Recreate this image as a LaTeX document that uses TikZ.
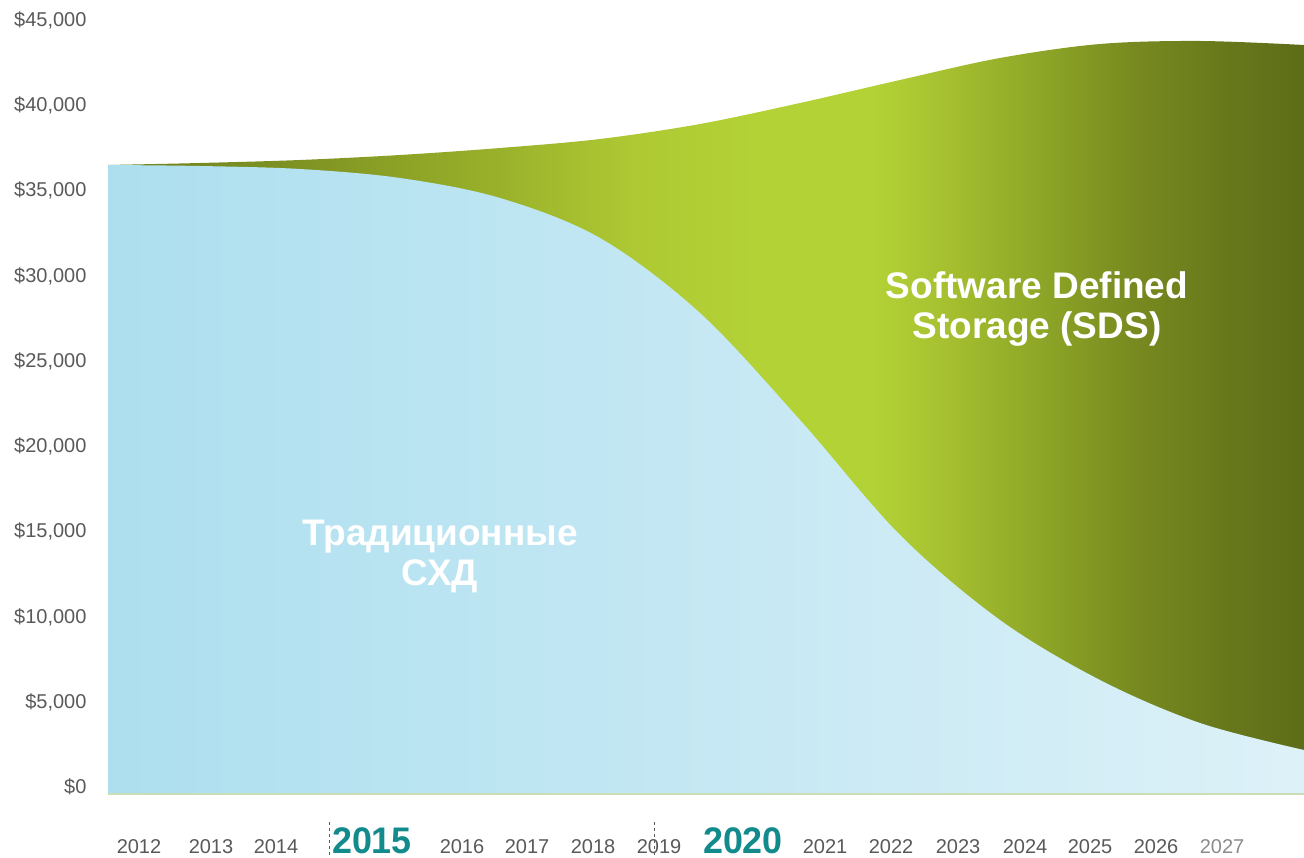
\documentclass[tikz,border=0pt]{standalone}
\usepackage{fontspec}
\setmainfont{Liberation Sans}
\usetikzlibrary{positioning}

\definecolor{sdsa}{HTML}{6F821E}
\definecolor{sdsb}{HTML}{7E9322}
\definecolor{sdsc}{HTML}{98B02A}
\definecolor{sdsd}{HTML}{AEC933}
\definecolor{sdse}{HTML}{B3D236}
\definecolor{sdsf}{HTML}{A6C030}
\definecolor{sdsg}{HTML}{8DA627}
\definecolor{sdsh}{HTML}{77891F}
\definecolor{sdsi}{HTML}{66771B}
\definecolor{sdsj}{HTML}{5D6D18}
\definecolor{oldleft}{HTML}{ADDFEF}
\definecolor{oldright}{HTML}{DDF1F8}
\definecolor{ticktext}{HTML}{595959}
\definecolor{yeartext}{HTML}{138A8C}
\definecolor{axisline}{HTML}{CADDB4}

% the path box runs from 25bp to 75bp
\pgfdeclarehorizontalshading{sdsband}{100bp}{%
  color(0bp)=(sdsa); color(25bp)=(sdsa); color(33bp)=(sdsb);
  color(41bp)=(sdsc); color(47bp)=(sdsd); color(52bp)=(sdse);
  color(57bp)=(sdse); color(60bp)=(sdsf); color(64bp)=(sdsg);
  color(68bp)=(sdsh); color(72bp)=(sdsi); color(75bp)=(sdsj);
  color(100bp)=(sdsj)}

\tikzset{
  axislabel/.style={font=\fontsize{20}{24}\selectfont, text=ticktext},
  yearlabel/.style={font=\fontsize{20}{24}\selectfont, text=ticktext,
    anchor=base, inner sep=0pt},
  bigyear/.style={font=\fontsize{37}{40}\selectfont\bfseries, text=yeartext,
    anchor=base, inner sep=0pt, xscale=0.97},
  arealabel/.style={font=\fontsize{37}{40}\selectfont\bfseries, text=white,
    align=center},
}

\begin{document}
\begin{tikzpicture}[x=1pt, y=-1pt]
	\useasboundingbox (0,0) rectangle (1304,858);

		%SDS area
	\path[shading=sdsband]
		plot[smooth, tension=0.55] coordinates {(108,165) (200,163) (300,160)
			(400,155) (500,148) (600,139) (700,124) (800,103) (900,80)
			(1000,58) (1100,44) (1200,41) (1304,45)}
		-- (1304,794) -- (108,794) -- cycle;

		%traditional area
	\path[left color=oldleft, right color=oldright]
		plot[smooth, tension=0.55] coordinates {(108,165) (200,166) (300,169)
			(400,178) (500,198) (600,238) (700,313) (800,420) (900,535)
			(1000,620) (1100,680) (1200,723) (1304,750)}
		-- (1304,794) -- (108,794) -- cycle;

	\draw[axisline, line width=1.5pt] (108,794) -- (1304,794);

		%value axis
	\foreach \val/\y [count=\i] in {0/787, {5,000}/702, {10,000}/617,
			{15,000}/531, {20,000}/446, {25,000}/361, {30,000}/276,
			{35,000}/190, {40,000}/105, {45,000}/20}
		\node[axislabel, anchor=east] (val\i) at (90,\y) {\$\val};

		%years
	\foreach \yr/\x in {2012/139, 2013/211, 2014/276, 2016/462, 2017/527,
			2018/593, 2019/659, 2021/825, 2022/891, 2023/958, 2024/1025,
			2025/1090, 2026/1156}
		\node[yearlabel] (yr\yr) at (\x,853) {\yr};
	\node[yearlabel, text=ticktext!70] (yr2027) at (1222,853) {2027};
	\node[bigyear] (yr2015) at (372,853) {2015};
	\node[bigyear] (yr2020) at (743,853) {2020};

	\draw[dashed, ticktext, line width=0.6pt] (329,822) -- (329,856);
	\draw[dashed, ticktext, line width=0.6pt] (654,822) -- (654,856);

	\node[arealabel] (oldlabel) at (440,556) {Традиционные\\СХД};
	\node[arealabel] (sdslabel) at (1037,309) {Software Defined\\Storage (SDS)};
\end{tikzpicture}
\end{document}
